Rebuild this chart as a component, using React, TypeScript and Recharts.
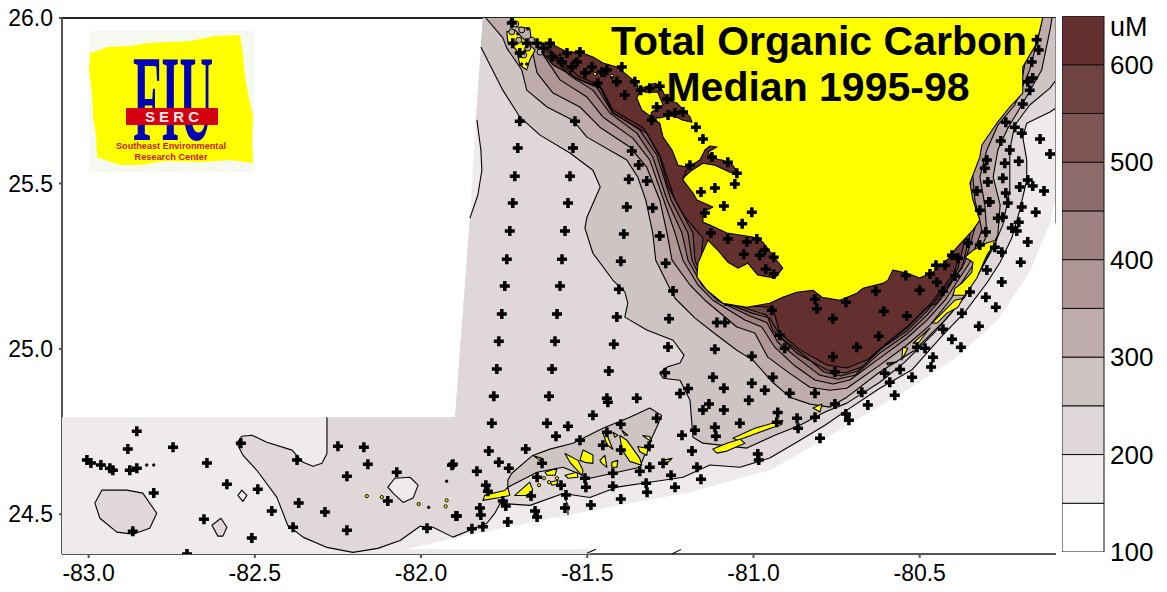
import React from "react";
import { ScatterChart, Scatter, XAxis, YAxis, BarChart, Bar } from "recharts";

type Pt = [number, number]; // lon, lat

const lonTicks = [-83, -82.5, -82, -81.5, -81, -80.5];
const latTicks = [24.5, 25, 25.5, 26];
const legendTicks = [100, 200, 300, 400, 500, 600];
const legendBands = [100, 150, 200, 250, 300, 350, 400, 450, 500, 550, 600];
const legendColors = ["#ffffff", "#efebeb", "#e0d8d8", "#cfc4c4", "#bfadad", "#af9797", "#9f8282", "#8f6c6c", "#7f5656", "#704343", "#632f2f"];

// sampled region, no outline
const domain150: Pt[] = [[-81.814,26],[-81.835,25.692],[-81.853,25.395],[-81.898,24.793],[-83.08,24.793],[-83.08,24.38],[-81.492,24.38],[-81.492,24.394],[-82.043,24.394],[-81.892,24.43],[-81.561,24.497],[-81.191,24.567],[-80.951,24.633],[-80.791,24.724],[-80.641,24.815],[-80.539,24.875],[-80.388,24.975],[-80.265,25.087],[-80.169,25.232],[-80.108,25.38],[-80.09,25.465],[-80.09,26]];
const rightEdge: Pt[] = [[-80.09,26],[-80.09,25.38]];

// contours, west to east
const c200a: Pt[] = [[-81.832,25.692],[-81.82,25.601],[-81.817,25.54],[-81.829,25.465],[-81.853,25.395]];
const c200edge: Pt[] = [[-81.898,24.793]];
const c200b: Pt[] = [[-82.283,24.793],[-82.283,24.684],[-82.298,24.654],[-82.325,24.645],[-82.355,24.657],[-82.388,24.694],[-82.464,24.718],[-82.509,24.739],[-82.539,24.736],[-82.554,24.715],[-82.536,24.679],[-82.494,24.633],[-82.434,24.552],[-82.401,24.467],[-82.355,24.431],[-82.283,24.4],[-82.205,24.385],[-82.13,24.397],[-82.063,24.421],[-82.003,24.464],[-81.964,24.461],[-81.904,24.431],[-81.853,24.452],[-81.802,24.473],[-81.778,24.503],[-81.762,24.533],[-81.672,24.527],[-81.573,24.563],[-81.492,24.551],[-81.411,24.582],[-81.312,24.597],[-81.212,24.612],[-81.131,24.649],[-81.041,24.642],[-80.951,24.67],[-80.86,24.724],[-80.785,24.769],[-80.71,24.821],[-80.62,24.881],[-80.524,24.936],[-80.43,25.042],[-80.364,25.111],[-80.298,25.199],[-80.258,25.262],[-80.223,25.335],[-80.199,25.419],[-80.178,25.51],[-80.178,25.571],[-80.19,25.64],[-80.178,25.682],[-80.108,25.716],[-80.09,25.728]];
const c250: Pt[] = [[-81.82,25.912],[-81.754,25.782],[-81.703,25.701],[-81.642,25.646],[-81.552,25.592],[-81.483,25.54],[-81.461,25.489],[-81.501,25.398],[-81.507,25.365],[-81.483,25.289],[-81.423,25.208],[-81.387,25.172],[-81.378,25.138],[-81.387,25.096],[-81.321,25.057],[-81.242,25.026],[-81.209,24.981],[-81.221,24.957],[-81.26,24.945],[-81.282,24.927],[-81.272,24.911],[-81.221,24.905],[-81.191,24.845],[-81.182,24.733],[-81.152,24.715],[-81.02,24.7],[-80.936,24.739],[-80.86,24.769],[-80.785,24.809],[-80.719,24.836],[-80.62,24.899],[-80.545,24.96],[-80.454,25.051],[-80.385,25.132],[-80.325,25.223],[-80.283,25.298],[-80.25,25.374],[-80.229,25.48],[-80.229,25.601],[-80.214,25.676],[-80.169,25.737],[-80.108,25.788],[-80.09,25.812]];
const c300: Pt[] = [[-81.805,26],[-81.754,25.94],[-81.742,25.909],[-81.697,25.843],[-81.682,25.782],[-81.621,25.731],[-81.543,25.691],[-81.501,25.64],[-81.381,25.571],[-81.348,25.519],[-81.324,25.45],[-81.303,25.35],[-81.294,25.268],[-81.257,25.193],[-81.236,25.153],[-81.176,25.093],[-81.11,25.041],[-81.05,24.996],[-81.002,24.966],[-80.942,24.899],[-80.891,24.854],[-80.83,24.833],[-80.77,24.824],[-80.719,24.854],[-80.62,24.93],[-80.515,24.996],[-80.424,25.087],[-80.364,25.157],[-80.304,25.262],[-80.265,25.344],[-80.258,25.435],[-80.279,25.519],[-80.265,25.601],[-80.235,25.667],[-80.193,25.737],[-80.133,25.843],[-80.108,25.964],[-80.102,26]];
const c350: Pt[] = [[-81.664,25.894],[-81.651,25.834],[-81.603,25.773],[-81.522,25.731],[-81.462,25.67],[-81.372,25.61],[-81.321,25.549],[-81.282,25.45],[-81.26,25.35],[-81.245,25.268],[-81.191,25.193],[-81.146,25.147],[-81.05,25.066],[-80.996,25.048],[-80.957,24.975],[-80.891,24.926],[-80.83,24.884],[-80.77,24.875],[-80.719,24.881],[-80.62,24.951],[-80.539,25.011],[-80.469,25.072],[-80.409,25.147],[-80.334,25.262],[-80.298,25.344],[-80.304,25.435],[-80.319,25.519],[-80.298,25.601],[-80.265,25.676],[-80.214,25.737],[-80.169,25.843],[-80.138,25.964],[-80.132,26],[-81.673,26]];
const c400: Pt[] = [[-81.642,25.903],[-81.582,25.813],[-81.501,25.761],[-81.453,25.701],[-81.363,25.637],[-81.312,25.571],[-81.27,25.45],[-81.236,25.35],[-81.212,25.268],[-81.167,25.193],[-81.122,25.147],[-81.026,25.087],[-80.975,25.066],[-80.936,25.005],[-80.875,24.948],[-80.815,24.906],[-80.761,24.894],[-80.71,24.906],[-80.62,24.972],[-80.539,25.032],[-80.478,25.087],[-80.424,25.147],[-80.349,25.262],[-80.313,25.359],[-80.334,25.45],[-80.343,25.555],[-80.304,25.646],[-80.229,25.737],[-80.193,25.813],[-80.169,25.934],[-80.163,26],[-81.642,26]];
const c450: Pt[] = [[-81.627,25.909],[-81.552,25.825],[-81.483,25.782],[-81.432,25.713],[-81.351,25.652],[-81.303,25.58],[-81.26,25.45],[-81.215,25.35],[-81.197,25.268],[-81.155,25.193],[-81.11,25.147],[-81.011,25.099],[-80.96,25.08],[-80.927,25.02],[-80.86,24.966],[-80.8,24.92],[-80.746,24.908],[-80.695,24.92],[-80.62,24.987],[-80.539,25.044],[-80.478,25.102],[-80.439,25.147],[-80.364,25.262],[-80.334,25.365],[-80.349,25.465],[-80.343,25.555],[-80.319,25.631],[-80.244,25.737],[-80.229,26],[-81.627,26]];
const c500: Pt[] = [[-81.618,25.909],[-81.537,25.819],[-81.471,25.791],[-81.426,25.716],[-81.342,25.661],[-81.291,25.586],[-81.248,25.45],[-81.197,25.35],[-81.185,25.268],[-81.149,25.193],[-81.104,25.147],[-81.005,25.108],[-80.951,25.093],[-80.915,25.032],[-80.845,24.978],[-80.788,24.93],[-80.737,24.918],[-80.686,24.933],[-80.614,25.002],[-80.539,25.054],[-80.478,25.114],[-80.439,25.163],[-80.373,25.244],[-80.349,25.344],[-80.364,25.45],[-80.385,25.555],[-80.385,26],[-81.618,26]];
const c550: Pt[] = [[-81.612,25.903],[-81.528,25.825],[-81.462,25.797],[-81.423,25.722],[-81.33,25.667],[-81.282,25.586],[-81.236,25.45],[-81.182,25.35],[-81.176,25.268],[-81.146,25.193],[-81.098,25.147],[-80.96,25.102],[-80.942,25.056],[-80.87,24.987],[-80.779,24.936],[-80.725,24.927],[-80.674,24.945],[-80.605,25.011],[-80.539,25.063],[-80.478,25.123],[-80.439,25.172],[-80.385,25.244],[-80.364,25.329],[-80.355,25.42],[-80.409,25.51],[-80.409,26],[-81.612,26]];
const c600: Pt[] = [[-81.633,25.894],[-81.603,25.858],[-81.522,25.813],[-81.462,25.791],[-81.423,25.713],[-81.372,25.682],[-81.321,25.652],[-81.282,25.58],[-81.257,25.489],[-81.227,25.435],[-81.206,25.398],[-81.152,25.335],[-81.161,25.238],[-81.086,25.132],[-80.942,25.126],[-80.921,25.048],[-80.86,24.997],[-80.779,24.951],[-80.719,24.942],[-80.659,24.966],[-80.599,25.017],[-80.539,25.066],[-80.478,25.126],[-80.448,25.138],[-80.409,25.192],[-80.385,25.268],[-80.409,25.298],[-80.559,25.45],[-80.559,26],[-81.633,26]];

const keysIsland: Pt[] = [[-81.739,24.603],[-81.727,24.624],[-81.664,24.678],[-81.612,24.697],[-81.543,24.715],[-81.453,24.76],[-81.372,24.793],[-81.312,24.821],[-81.276,24.799],[-81.291,24.763],[-81.312,24.718],[-81.342,24.642],[-81.423,24.624],[-81.492,24.609],[-81.573,24.642],[-81.651,24.627],[-81.739,24.582]];
const holeEast: Pt[] = [[-82.1,24.582],[-82.079,24.609],[-82.033,24.612],[-82.009,24.588],[-82.024,24.549],[-82.054,24.536],[-82.084,24.564]];
const blobWest: Pt[] = [[-82.981,24.534],[-82.96,24.573],[-82.885,24.573],[-82.837,24.564],[-82.795,24.503],[-82.816,24.458],[-82.867,24.44],[-82.915,24.446],[-82.966,24.488]];
const blobSmallA: Pt[] = [[-82.551,24.557],[-82.539,24.573],[-82.524,24.557],[-82.536,24.539]];
const blobSmallB: Pt[] = [[-82.629,24.467],[-82.602,24.488],[-82.584,24.461],[-82.596,24.434],[-82.611,24.434]];
const stubs: Pt[][] = [
  [[-81.558,24.497],[-81.558,24.527],[-81.573,24.563]],
  [[-81.501,24.382],[-81.474,24.394]],
  [[-81.245,24.38],[-81.218,24.394]],
  [[-80.253,25.791],[-80.199,25.761]],
];

const mainland: Pt[] = [[-81.724,26],[-81.712,25.973],[-81.673,25.97],[-81.667,25.924],[-81.612,25.924],[-81.561,25.897],[-81.522,25.897],[-81.483,25.882],[-81.453,25.864],[-81.411,25.852],[-81.381,25.828],[-81.351,25.803],[-81.342,25.776],[-81.351,25.758],[-81.336,25.722],[-81.282,25.682],[-81.272,25.64],[-81.245,25.601],[-81.227,25.555],[-81.197,25.549],[-81.212,25.51],[-81.182,25.471],[-81.17,25.45],[-81.122,25.429],[-81.152,25.413],[-81.152,25.383],[-81.131,25.374],[-81.08,25.35],[-81.041,25.344],[-81.002,25.338],[-80.972,25.323],[-80.942,25.283],[-80.912,25.244],[-80.936,25.214],[-80.987,25.223],[-81.017,25.259],[-81.047,25.244],[-81.077,25.262],[-81.107,25.298],[-81.137,25.329],[-81.167,25.259],[-81.17,25.217],[-81.14,25.177],[-81.092,25.138],[-81.02,25.126],[-80.951,25.138],[-80.912,25.156],[-80.87,25.171],[-80.821,25.177],[-80.794,25.156],[-80.74,25.147],[-80.689,25.168],[-80.671,25.183],[-80.611,25.198],[-80.596,25.207],[-80.581,25.238],[-80.539,25.229],[-80.5,25.214],[-80.46,25.232],[-80.418,25.268],[-80.388,25.307],[-80.34,25.359],[-80.319,25.389],[-80.34,25.45],[-80.349,25.501],[-80.319,25.58],[-80.313,25.616],[-80.268,25.682],[-80.229,25.731],[-80.19,25.773],[-80.19,25.852],[-80.148,25.924],[-80.13,26]];
const brownIslands: Pt[][] = [
  [[-81.197,25.549],[-81.161,25.571],[-81.146,25.601],[-81.131,25.613],[-81.11,25.61],[-81.137,25.595],[-81.125,25.577],[-81.095,25.571],[-81.062,25.555],[-81.047,25.531],[-81.071,25.534],[-81.116,25.555],[-81.152,25.561],[-81.185,25.54],[-81.212,25.516]],
  [[-81.336,25.788],[-81.297,25.803],[-81.282,25.797],[-81.26,25.752],[-81.23,25.743],[-81.191,25.701],[-81.185,25.685],[-81.212,25.691],[-81.245,25.707],[-81.282,25.698],[-81.312,25.698],[-81.306,25.716],[-81.272,25.737],[-81.288,25.776],[-81.327,25.776]],
];
const yellowIslands: Pt[][] = [
  [[-81.742,25.958],[-81.718,25.964],[-81.688,25.933],[-81.657,25.903],[-81.673,25.873],[-81.682,25.843],[-81.703,25.858],[-81.712,25.903],[-81.739,25.927]],
  [[-80.364,25.277],[-80.34,25.262],[-80.343,25.232],[-80.373,25.199],[-80.394,25.183],[-80.4,25.162],[-80.364,25.162],[-80.328,25.214],[-80.298,25.283],[-80.268,25.329],[-80.298,25.32],[-80.34,25.298]],
  [[-80.463,25.078],[-80.433,25.108],[-80.394,25.147],[-80.37,25.153],[-80.385,25.126],[-80.418,25.108],[-80.448,25.078]],
  [[-80.52,25.017],[-80.469,25.063],[-80.505,25.017]],
  [[-80.551,25.005],[-80.536,25.002],[-80.554,24.966]],
  [[-80.599,24.957],[-80.569,24.96],[-80.596,24.951]],
  [[-80.821,24.821],[-80.794,24.833],[-80.8,24.809]],
  [[-81.062,24.73],[-80.996,24.76],[-80.912,24.784],[-80.915,24.772],[-80.99,24.745],[-81.047,24.724]],
  [[-81.122,24.697],[-81.08,24.715],[-81.041,24.727],[-81.026,24.715],[-81.08,24.691],[-81.11,24.685]],
  [[-81.814,24.542],[-81.808,24.558],[-81.748,24.572],[-81.739,24.582],[-81.733,24.557],[-81.763,24.551]],
  [[-81.718,24.557],[-81.673,24.597],[-81.664,24.573],[-81.682,24.557]],
  [[-81.567,24.684],[-81.528,24.663],[-81.513,24.633],[-81.516,24.618],[-81.552,24.657]],
  [[-81.522,24.663],[-81.513,24.694],[-81.483,24.679],[-81.483,24.654],[-81.507,24.657]],
  [[-81.402,24.738],[-81.381,24.724],[-81.342,24.669],[-81.336,24.648],[-81.372,24.66],[-81.396,24.696]],
  [[-81.453,24.747],[-81.441,24.741],[-81.423,24.696],[-81.441,24.711]],
  [[-81.462,24.663],[-81.447,24.678],[-81.441,24.642],[-81.456,24.654]],
  [[-81.426,24.657],[-81.408,24.663],[-81.411,24.642],[-81.426,24.642]],
  [[-81.567,24.618],[-81.531,24.627],[-81.528,24.612],[-81.558,24.609]],
  [[-81.627,24.627],[-81.591,24.639],[-81.597,24.618],[-81.621,24.618]],
  [[-81.333,24.738],[-81.312,24.735],[-81.306,24.72],[-81.321,24.729]],
  [[-81.348,24.705],[-81.318,24.699],[-81.321,24.678],[-81.342,24.69]],
  [[-81.272,24.663],[-81.245,24.669],[-81.26,24.654]],
  [[-81.423,24.748],[-81.408,24.739],[-81.417,24.733]],
  [[-81.396,24.754],[-81.378,24.739],[-81.387,24.739]],
  [[-81.664,24.678],[-81.636,24.669],[-81.642,24.663]],
  [[-81.612,24.597],[-81.588,24.603],[-81.591,24.591],[-81.606,24.588]],
];

// tiny islets
const greySpecks: Pt[] = [[-81.706,25.933],[-81.691,25.888],[-81.667,25.933],[-81.727,25.958],[-81.642,25.897],[-81.679,25.909],[-81.715,25.982],[-81.697,25.964]];
const blackSpecks: Pt[] = [[-81.718,25.921],[-81.679,25.967],[-81.733,25.988],[-81.688,25.9],[-81.648,25.912],[-81.697,25.861],[-81.682,25.861],[-81.709,25.952],[-81.447,25.825],[-81.426,25.819],[-81.492,25.837],[-81.537,25.873],[-81.582,25.888],[-81.923,24.6],[-81.977,24.521],[-82.825,24.649],[-82.804,24.649]];
const yellowSpecks: Pt[] = [[-82.118,24.552],[-82.007,24.531],[-81.923,24.542],[-81.926,24.524],[-82.163,24.555],[-81.426,25.825],[-81.444,25.843],[-81.408,25.819],[-81.477,25.831],[-81.63,24.609],[-81.615,24.597],[-81.645,24.588],[-81.591,24.609]];

const stations: Pt[] = [
  [-81.703,25.688],[-81.709,25.607],[-81.718,25.522],[-81.724,25.441],[-81.733,25.356],[-81.742,25.271],[-81.748,25.19],[-81.757,25.105],[-81.766,25.023],[-81.772,24.939],[-81.781,24.857],
  [-81.537,25.688],[-81.543,25.607],[-81.552,25.522],[-81.558,25.441],[-81.567,25.356],[-81.576,25.271],[-81.582,25.19],[-81.591,25.105],[-81.597,25.023],[-81.606,24.939],[-81.615,24.857],
  [-81.366,25.598],[-81.375,25.513],[-81.381,25.429],[-81.39,25.347],[-81.399,25.265],[-81.405,25.18],[-81.411,25.096],[-81.42,25.014],[-81.435,24.933],[-81.441,24.851],
  [-81.345,25.556],[-81.321,25.507],[-81.303,25.426],[-81.282,25.341],[-81.264,25.259],[-81.242,25.175],[-81.254,25.091],[-81.257,25.006],[-81.266,24.928],[-81.221,24.865],[-81.197,24.88],[-81.11,25.08],[-81.116,24.999],[-81.122,24.914],[-81.351,24.851],
  [-81.306,25.691],[-81.173,25.67],[-81.152,25.634],[-81.125,25.58],[-81.191,25.555],[-81.077,25.564],[-81.05,25.531],[-81.056,25.498],[-81.158,25.474],[-81.116,25.486],[-81.089,25.432],[-81.005,25.413],
  [-81.612,25.924],[-81.606,25.882],[-81.576,25.867],[-81.561,25.894],[-81.546,25.852],[-81.522,25.897],[-81.531,25.867],[-81.507,25.834],[-81.468,25.803],[-81.441,25.843],[-81.411,25.807],[-81.396,25.852],[-81.387,25.767],[-81.357,25.807],[-81.339,25.782],[-81.312,25.788],[-81.282,25.794],[-81.26,25.755],[-81.291,25.731],[-81.257,25.707],[-81.236,25.713],[-81.212,25.716],[-81.727,25.985],[-81.724,25.924],[-81.703,25.894],[-81.682,25.924],[-81.651,25.924],[-81.633,25.909],[-81.456,25.837],[-81.486,25.852],
  [-81.146,25.411],[-81.034,25.378],[-81.128,25.35],[-81.077,25.332],[-81.02,25.323],[-80.99,25.332],[-80.966,25.298],[-81.029,25.286],[-80.981,25.283],[-80.939,25.277],[-80.963,25.241],[-80.939,25.226],
  [-80.815,25.15],[-80.722,25.141],[-80.632,25.174],[-80.542,25.222],[-80.5,25.177],[-80.451,25.253],[-80.424,25.253],[-80.394,25.22],[-80.43,25.174],[-80.448,25.201],[-80.469,25.226],[-80.403,25.283],[-80.385,25.274],[-80.355,25.32],[-80.319,25.314],[-80.301,25.353],[-80.319,25.419],[-80.265,25.395],[-80.25,25.398],[-80.289,25.444],[-80.235,25.441],[-80.193,25.429],[-80.151,25.413],[-80.202,25.383],[-80.223,25.365],[-80.208,25.356],[-80.175,25.323],[-80.274,25.307],[-80.253,25.292],[-80.196,25.262],[-80.298,25.238],[-80.253,25.202],[-80.349,25.172],[-80.301,25.156],[-80.271,25.126],[-80.373,25.108],[-80.322,25.068],[-80.43,25.059],[-80.403,25.029],[-80.376,25.005],[-80.46,24.975],[-80.466,24.945],[-80.484,25.002],[-80.508,25.005],[-80.523,24.914],[-80.559,24.938],[-80.575,24.86],[-80.59,24.899],[-80.605,24.926],[-80.674,24.869],[-80.656,24.83],[-80.755,24.833],[-80.713,24.784],[-80.722,24.803],[-80.815,24.866],[-80.755,24.93],[-80.942,24.914],[-80.891,24.866],[-81.005,24.978],[-81.005,24.896],[-80.966,24.875],[-81.089,24.881],[-81.086,25.08],[-80.945,25.117],[-80.921,25.041],[-80.906,25.002],[-80.761,25.091],[-80.761,24.976],[-80.809,25.121],[-80.623,25.038],[-80.689,25.005],[-80.608,25.114],[-80.539,25.099],
  [-81.134,24.833],[-81.152,24.815],[-81.089,24.815],[-81.014,24.845],[-80.927,24.808],[-80.93,24.778],[-81.041,24.775],[-81.116,24.763],[-81.176,24.754],[-81.215,24.739],[-81.113,24.736],[-80.869,24.79],[-80.866,24.76],[-80.815,24.793],[-80.8,24.73],[-81.291,24.79],
  [-81.438,24.839],[-81.787,24.775],[-81.621,24.775],[-81.483,24.799],[-81.558,24.766],[-81.399,24.772],[-81.441,24.748],[-81.594,24.736],[-81.522,24.724],[-81.453,24.709],[-81.185,24.691],[-81.685,24.697],[-81.796,24.691],[-81.766,24.657],[-81.736,24.639],[-81.832,24.63],[-81.904,24.651],[-81.636,24.654],[-81.651,24.612],[-81.314,24.706],[-81.399,24.694],[-81.272,24.654],[-81.312,24.642],[-81.342,24.63],[-81.17,24.642],[-81.248,24.618],[-81.158,24.606],[-81.423,24.624],[-81.507,24.609],[-81.504,24.582],[-81.423,24.585],[-81.579,24.588],[-81.669,24.555],[-81.323,24.594],[-81.32,24.567],[-81.236,24.582],[-81.564,24.558],[-81.567,24.519],[-81.489,24.528],[-81.399,24.546],[-81.805,24.588],[-81.799,24.57],[-81.754,24.54],[-81.745,24.525],[-81.823,24.519],[-81.82,24.498],[-81.895,24.495],[-81.657,24.51],[-81.651,24.492],[-81.739,24.477],[-81.847,24.456],[-81.814,24.462],[-80.987,24.682],[-80.984,24.664],
  [-82.855,24.751],[-82.882,24.697],[-82.746,24.703],[-83.005,24.664],[-82.993,24.655],[-82.963,24.649],[-82.936,24.639],[-82.927,24.633],[-82.876,24.633],[-82.855,24.639],[-82.644,24.655],[-82.542,24.715],[-82.373,24.664],[-82.25,24.706],[-82.172,24.703],[-82.16,24.651],[-82.223,24.615],[-82.073,24.627],[-81.907,24.648],[-82.804,24.564],[-82.584,24.591],[-82.491,24.576],[-82.449,24.51],[-82.368,24.534],[-82.289,24.507],[-82.1,24.54],[-81.892,24.495],[-82.653,24.485],[-82.867,24.449],[-82.509,24.428],[-82.385,24.461],[-82.223,24.452],[-81.982,24.458],[-82.704,24.38],
  [-80.138,25.634],[-80.108,25.589],[-80.126,25.477],[-80.241,25.685],[-80.214,25.67],[-80.193,25.652],[-80.256,25.628],[-80.229,25.601],[-80.298,25.571],[-80.244,25.561],[-80.202,25.567],[-80.304,25.546],[-80.25,25.516],[-80.175,25.51],[-80.16,25.492],[-80.199,25.489],[-80.295,25.504],[-80.241,25.471],[-80.328,25.477],[-80.292,25.444],[-80.19,25.74],[-80.175,25.807],[-80.163,25.867],[-80.148,25.934],[-80.142,25.903],[-80.16,25.819],[-80.169,25.782],
];

const sans = "'Liberation Sans', Arial, sans-serif";
const YELLOW = "#ffff00";
const toRows = (pts: Pt[]) => pts.map(([lon, lat]) => ({ lon, lat }));
const noMark = () => <g />;

function pathOf(points: any[], closed: boolean) {
  const d = points.map((p, i) => `${i ? "L" : "M"}${p.x} ${p.y}`).join("");
  return closed ? d + "Z" : d;
}

// draws a polygon or a line out of the scatter's own scaled points
function shapeLine(fill: string, stroke: string, closed: boolean, width: number) {
  return (props: any) => (
    <path d={pathOf(props.points, closed)} fill={fill} stroke={stroke} strokeWidth={width} strokeLinejoin="round" />
  );
}

function region(key: string, pts: Pt[], fill: string, stroke = "none", closed = true, width = 1.1) {
  return (
    <Scatter
      key={key}
      data={toRows(pts)}
      isAnimationActive={false}
      shape={noMark}
      line={shapeLine(fill, stroke, closed, width)}
    />
  );
}

function specks(key: string, pts: Pt[], fill: string, r: number) {
  return (
    <Scatter
      key={key}
      data={toRows(pts)}
      isAnimationActive={false}
      shape={(p: any) => <circle cx={p.cx} cy={p.cy} r={r} fill={fill} stroke="#000" strokeWidth={1} />}
    />
  );
}

const plusMark = (p: any) => (
  <path
    d={`M${p.cx - 5} ${p.cy}H${p.cx + 5}M${p.cx} ${p.cy - 5}V${p.cy + 5}`}
    stroke="#000"
    strokeWidth={3.5}
    fill="none"
  />
);

const bandKeys = legendBands.map((b) => `b${b}`);
const legendRow: Record<string, any> = { name: "uM", base: legendBands[0] };
bandKeys.forEach((k) => (legendRow[k] = 50));

const lonDomain: [number, number] = [-83.08, -80.09];
const latDomain: [number, number] = [24.38, 26];
const tickStyle = { fontFamily: sans, fontSize: 23, fill: "#000" };

function ContourMap() {
  const bands: [string, Pt[], string][] = [
    ["c250", [...c250, [-80.09, 26], [-81.814, 26]], legendColors[3]],
    ["c300", c300, legendColors[4]],
    ["c350", c350, legendColors[5]],
    ["c400", c400, legendColors[6]],
    ["c450", c450, legendColors[7]],
    ["c500", c500, legendColors[8]],
    ["c550", c550, legendColors[9]],
    ["c600", c600, legendColors[10]],
  ];
  const openEnds: Record<string, Pt[]> = {
    c300, c250,
    c350: c350.slice(0, -1),
    c400: c400.slice(0, -1),
    c450: c450.slice(0, -1),
    c500: c500.slice(0, -1),
    c550: c550.slice(0, -1),
    c600: c600.slice(0, -1),
  };
  return (
    <ScatterChart width={1167} height={592} margin={{ top: 0, right: 110, bottom: 0, left: 0 }}>
      <XAxis
        dataKey="lon"
        type="number"
        domain={lonDomain}
        allowDataOverflow
        ticks={lonTicks}
        interval={0}
        height={38}
        tickSize={4}
        tickMargin={7}
        tickFormatter={(v: number) => v.toFixed(1)}
        tick={tickStyle}
        stroke="#555"
        strokeWidth={2}
      />
      <XAxis
        xAxisId="top"
        orientation="top"
        dataKey="lon"
        type="number"
        domain={lonDomain}
        allowDataOverflow
        ticks={lonTicks}
        interval={0}
        height={18}
        tickSize={5}
        tick={false}
        stroke="#222"
        strokeWidth={2}
      />
      <YAxis
        dataKey="lat"
        type="number"
        domain={latDomain}
        allowDataOverflow
        ticks={latTicks}
        interval={0}
        width={62}
        tickSize={3}
        tickMargin={6}
        tickFormatter={(v: number) => v.toFixed(1)}
        tick={tickStyle}
        stroke="#555"
        strokeWidth={2}
      />
      <YAxis
        yAxisId="right"
        orientation="right"
        dataKey="lat"
        type="number"
        domain={latDomain}
        allowDataOverflow
        ticks={latTicks}
        interval={0}
        width={1}
        tickSize={-4}
        tick={false}
        axisLine={false}
        stroke="#555"
      />

      {region("domain", domain150, legendColors[1])}
      {region("band200", [...c200a, ...c200edge, ...c200b, [-80.09, 26], [-81.814, 26], [-81.835, 25.692]], legendColors[2])}
      {region("blobWest", blobWest, legendColors[2], "#000")}
      {region("blobSmallA", blobSmallA, legendColors[1], "#000")}
      {region("blobSmallB", blobSmallB, legendColors[2], "#000")}
      {region("holeEast", holeEast, legendColors[1], "#000")}
      {region("line200a", c200a, "none", "#000", false)}
      {region("line200b", c200b, "none", "#000", false)}
      {bands.map(([k, pts, color]) => region(k, pts, color))}
      {region("keysIsland", keysIsland, legendColors[3], "#000", true)}
      {Object.keys(openEnds).map((k) => region(`line-${k}`, openEnds[k], "none", "#000", false))}
      {stubs.map((s, i) => region(`stub${i}`, s, "none", "#000", false))}
      {region("mainland", mainland, YELLOW, "#000", false)}
      {region("rightEdge", rightEdge, "none", "#888", false, 2)}
      {brownIslands.map((s, i) => region(`brown${i}`, s, legendColors[10], "#000"))}
      {yellowIslands.map((s, i) => region(`isle${i}`, s, YELLOW, "#000"))}
      {specks("greySpecks", greySpecks, legendColors[4], 3)}
      {specks("yellowSpecks", yellowSpecks, YELLOW, 1.6)}
      {specks("blackSpecks", blackSpecks, "#000", 1.2)}
      <Scatter data={toRows(stations)} isAnimationActive={false} shape={plusMark} />
    </ScatterChart>
  );
}

function LegendBar() {
  return (
    <BarChart
      width={105}
      height={592}
      data={[legendRow]}
      margin={{ top: 16, right: 0, bottom: 40, left: 0 }}
      barCategoryGap={0}
    >
      <XAxis dataKey="name" hide />
      <YAxis
        orientation="right"
        type="number"
        domain={[100, 650]}
        allowDataOverflow
        ticks={legendTicks}
        interval={0}
        width={63}
        axisLine={false}
        tickLine={false}
        tickMargin={0}
        tick={{ fontFamily: sans, fontSize: 26, fill: "#000" }}
      />
      <Bar dataKey="base" stackId="c" fill="none" isAnimationActive={false} />
      {bandKeys.map((k, i) => (
        <Bar key={k} dataKey={k} stackId="c" fill={legendColors[i]} stroke="#111" strokeWidth={1} isAnimationActive={false} />
      ))}
    </BarChart>
  );
}

function Overlay() {
  return (
    <svg width={1167} height={592} style={{ position: "absolute", left: 0, top: 0, pointerEvents: "none" }}>
      <rect x={89} y={31} width={165} height={141} fill="#f6f9ef" />
      <polygon points="90,53 100,50 107,47 130,46 147,43 190,41 215,36 240,35 243,55 245,77 249,98 253,117 252,140 253,163 230,160 203,162 165,161 140,165 120,165 105,160 97,157 96,135 93,117 92,95 89,70" fill={YELLOW} />
      <text x={133} y={140} fontFamily="'Liberation Serif', serif" fontWeight="bold" fontSize={122} fill="#0000b4" textLength={80} lengthAdjust="spacingAndGlyphs">FIU</text>
      <rect x={126} y={108} width={92} height={17} fill="#d40010" />
      <text x={172} y={122} textAnchor="middle" fontFamily={sans} fontWeight="bold" fontSize={15} fill="#f4e8e8">S E R C</text>
      <text x={171} y={149} textAnchor="middle" fontFamily={sans} fontWeight="bold" fontSize={8.5} fill="#c81818" textLength={110} lengthAdjust="spacingAndGlyphs">Southeast Environmental</text>
      <text x={171} y={160} textAnchor="middle" fontFamily={sans} fontWeight="bold" fontSize={8.5} fill="#c81818" textLength={73} lengthAdjust="spacingAndGlyphs">Research Center</text>
      <text x={819} y={55} textAnchor="middle" fontFamily={sans} fontWeight="bold" fontSize={41} fill="#000">Total Organic Carbon</text>
      <text x={818} y={101} textAnchor="middle" fontFamily={sans} fontWeight="bold" fontSize={41} fill="#000">Median 1995-98</text>
      <text x={1110} y={36} fontFamily={sans} fontSize={27} fill="#000">uM</text>
    </svg>
  );
}

export default function App() {
  return (
    <div style={{ position: "absolute", left: 0, top: 0, width: 1167, height: 592, background: "#fff", overflow: "hidden" }}>
      <div style={{ position: "absolute", left: 0, top: 0 }}>
        <ContourMap />
      </div>
      <div style={{ position: "absolute", left: 1062, top: 0 }}>
        <LegendBar />
      </div>
      <Overlay />
    </div>
  );
}
